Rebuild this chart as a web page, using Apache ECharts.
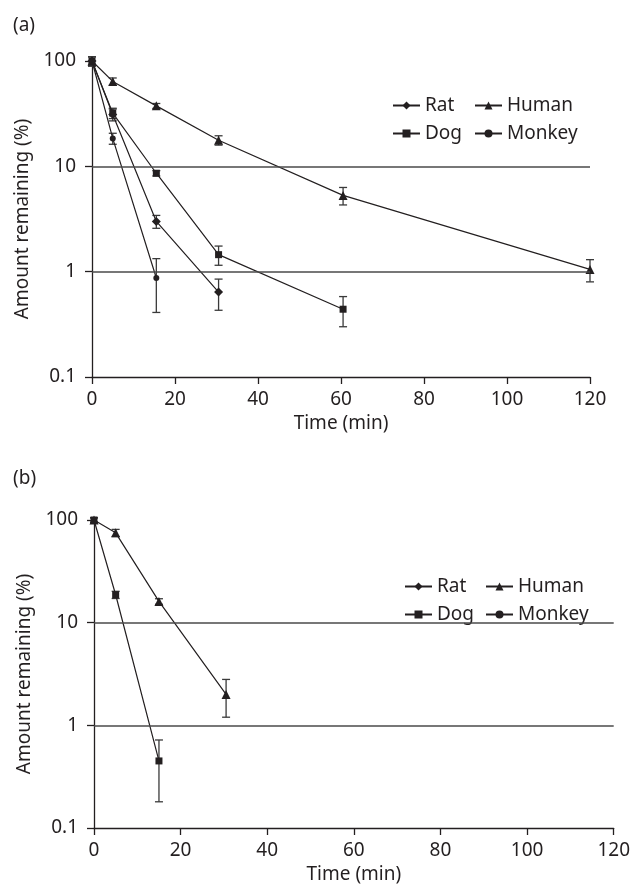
<!DOCTYPE html>
<html>
<head>
<meta charset="utf-8">
<script src="https://cdn.jsdelivr.net/npm/echarts@6/dist/echarts.min.js"></script>
<style>
html, body { margin: 0; padding: 0; background: #fff; }
#chart { width: 633px; height: 886px; }
</style>
</head>
<body>
<div id="chart"></div>
<script>
var timeTicks = [0, 20, 40, 60, 80, 100, 120]
var yTicks = [0.1, 1, 10, 100]
var gridLevels = [10, 1]

// panel (a)
var ratTimeA = [0, 5, 15.5, 30.5]
var ratA = [100, 31, 3.0, 0.64]
var ratErrA = [10, 4, 0.42, 0.21]

var dogTimeA = [0, 5, 15.5, 30.5, 60.5]
var dogA = [100, 32, 8.6, 1.45, 0.44]
var dogErrA = [10, 3.6, 0.5, 0.3, 0.14]

var humanTimeA = [0, 5, 15.5, 30.5, 60.5, 120]
var humanA = [100, 64, 37.5, 17.7, 5.3, 1.05]
var humanErrA = [10, 5, 2, 1.8, 1.0, 0.25]

var monkeyTimeA = [0, 5, 15.5]
var monkeyA = [100, 18.4, 0.87]
var monkeyErrA = [10, 2.2, 0.46]

// panel (b)
var dogTimeB = [0, 5, 15]
var dogB = [100, 18.7, 0.45]
var dogErrB = [5, 1.5, 0.27]

var humanTimeB = [0, 5, 15, 30.5]
var humanB = [100, 75, 16.1, 2.0]
var humanErrB = [5, 6, 1.0, 0.8]

var INK = '#231f20'
var FONT = 'Noto Sans'
var FS = 19

var chart = echarts.init(document.getElementById('chart'))

var lineSeries = function (name, symbol, size, times, values, idx) {
    return {
        name: name,
        type: 'line',
        xAxisIndex: idx,
        yAxisIndex: idx,
        data: times.map(function (t, i) { return [t, values[i]] }),
        symbol: symbol,
        symbolSize: size,
        lineStyle: { color: INK, width: 1.2 },
        itemStyle: { color: INK },
        z: 3
    }
}

var errorSeries = function (times, values, errs, idx) {
    return {
        type: 'custom',
        xAxisIndex: idx,
        yAxisIndex: idx,
        silent: true,
        z: 2,
        encode: { x: 0, y: [1, 2] },
        data: times.map(function (t, i) { return [t, values[i] - errs[i], values[i] + errs[i]] }),
        renderItem: function (params, api) {
            var hi = api.coord([api.value(0), api.value(2)])
            var lo = api.coord([api.value(0), api.value(1)])
            var w = 4
            var st = { stroke: '#3a3a3a', lineWidth: 1.3 }
            return {
                type: 'group',
                children: [
                    { type: 'line', shape: { x1: hi[0], y1: hi[1], x2: lo[0], y2: lo[1] }, style: st },
                    { type: 'line', shape: { x1: hi[0] - w, y1: hi[1], x2: hi[0] + w, y2: hi[1] }, style: st },
                    { type: 'line', shape: { x1: lo[0] - w, y1: lo[1], x2: lo[0] + w, y2: lo[1] }, style: st }
                ]
            }
        }
    }
}

var levelLines = function (idx) {
    return {
        type: 'line',
        xAxisIndex: idx,
        yAxisIndex: idx,
        data: [],
        markLine: {
            silent: true,
            symbol: 'none',
            label: { show: false },
            lineStyle: { color: '#4a4a4a', width: 1.6, type: 'solid' },
            data: gridLevels.map(function (v) { return { yAxis: v } })
        }
    }
}

var xAxisFor = function (idx) {
    return {
        gridIndex: idx,
        type: 'value',
        min: timeTicks[0],
        max: timeTicks[timeTicks.length - 1],
        interval: timeTicks[1] - timeTicks[0],
        name: 'Time (min)',
        nameLocation: 'middle',
        nameGap: 37,
        nameTextStyle: { color: INK, fontSize: FS, fontFamily: FONT },
        axisLine: { show: true, onZero: false, lineStyle: { color: INK, width: 1.3 } },
        axisTick: { show: true, length: 7, lineStyle: { color: INK, width: 1.3 } },
        axisLabel: { margin: 13, color: INK, fontSize: FS, fontFamily: FONT },
        splitLine: { show: false }
    }
}

var yAxisFor = function (idx) {
    return {
        gridIndex: idx,
        type: 'log',
        logBase: 10,
        min: yTicks[0],
        max: yTicks[yTicks.length - 1],
        name: 'Amount remaining (%)',
        nameLocation: 'middle',
        nameGap: 56,
        nameTextStyle: { color: INK, fontSize: FS, fontFamily: FONT },
        axisLine: { show: true, lineStyle: { color: INK, width: 1.3 } },
        axisTick: { show: true, length: 7, lineStyle: { color: INK, width: 1.3 } },
        axisLabel: {
            margin: 16, color: INK, fontSize: FS, fontFamily: FONT,
            formatter: function (v) { return String(+Number(v).toPrecision(3)) }
        },
        splitLine: { show: false },
        minorTick: { show: false }
    }
}

var legendFor = function (names, left, top) {
    return {
        data: names,
        orient: 'vertical',
        left: left,
        top: top,
        itemWidth: 27,
        itemHeight: 10,
        itemGap: 9,
        selectedMode: false,
        textStyle: { color: INK, fontSize: FS, fontFamily: FONT }
    }
}

var option = {
    animation: false,
    backgroundColor: '#fff',
    title: [
        { text: '(a)', left: 8, top: 11, textStyle: { color: INK, fontSize: FS, fontWeight: 'normal', fontFamily: FONT } },
        { text: '(b)', left: 8, top: 464, textStyle: { color: INK, fontSize: FS, fontWeight: 'normal', fontFamily: FONT } }
    ],
    grid: [
        { left: 92, top: 61, width: 498, height: 316 },
        { left: 94, top: 520, width: 521, height: 308 }
    ],
    legend: [
        legendFor(['Rat', 'Dog'], 387, 91),
        legendFor(['Human', 'Monkey'], 469, 91),
        legendFor(['Rat', 'Dog'], 399, 572),
        legendFor(['Human', 'Monkey'], 480, 572)
    ],
    xAxis: [xAxisFor(0), xAxisFor(1)],
    yAxis: [yAxisFor(0), yAxisFor(1)],
    series: [
        levelLines(0),
        levelLines(1),
        errorSeries(ratTimeA, ratA, ratErrA, 0),
        errorSeries(dogTimeA, dogA, dogErrA, 0),
        errorSeries(humanTimeA, humanA, humanErrA, 0),
        errorSeries(monkeyTimeA, monkeyA, monkeyErrA, 0),
        errorSeries(dogTimeB, dogB, dogErrB, 1),
        errorSeries(humanTimeB, humanB, humanErrB, 1),
        lineSeries('Rat', 'diamond', 9, ratTimeA, ratA, 0),
        lineSeries('Human', 'triangle', 9, humanTimeA, humanA, 0),
        lineSeries('Dog', 'rect', 7, dogTimeA, dogA, 0),
        lineSeries('Monkey', 'circle', 6, monkeyTimeA, monkeyA, 0),
        lineSeries('Human', 'triangle', 9, humanTimeB, humanB, 1),
        lineSeries('Dog', 'rect', 7, dogTimeB, dogB, 1)
    ]
}

chart.setOption(option)
</script>
</body>
</html>
